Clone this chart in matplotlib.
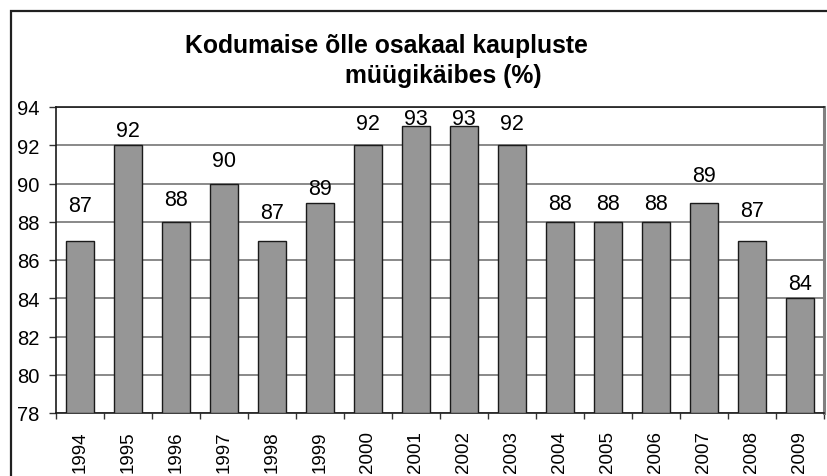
import matplotlib
matplotlib.use("Agg")
import matplotlib.pyplot as plt
from matplotlib.patches import Rectangle

# data
years = ["1994", "1995", "1996", "1997", "1998", "1999", "2000", "2001",
         "2002", "2003", "2004", "2005", "2006", "2007", "2008", "2009"]
share = [87, 92, 88, 90, 87, 89, 92, 93, 93, 92, 88, 88, 88, 89, 87, 84]
# where the value labels sit (baseline, axis units) - uneven in the original
label_y = [88.56, 92.48, 88.88, 90.92, 88.20, 89.45, 92.85, 93.11,
           93.11, 92.85, 88.69, 88.69, 88.69, 90.13, 88.30, 84.48]
yticks = [78, 80, 82, 84, 86, 88, 90, 92, 94]

title_1 = "Kodumaise õlle osakaal kaupluste"
title_2 = "müügikäibes (%)"

plt.rcParams['font.family'] = ['Liberation Sans', 'DejaVu Sans']

fig = plt.figure(figsize=(8.28, 4.77), dpi=100)
W, H = 828, 477

# outer chart frame (cut off on the right and bottom in the original)
fig.patches.append(Rectangle((11 / W, -0.1), 1.2, 1 - 12 / H + 0.1,
                             transform=fig.transFigure, fill=False,
                             edgecolor='#202020', linewidth=1.6))

ax = fig.add_axes([56 / W, 1 - 414 / H, (824 - 56) / W, (414 - 108) / H])

x = list(range(len(years)))
ax.bar(x, [v - 78 for v in share], bottom=78, width=0.6, color='#969696',
       edgecolor='#1a1a1a', linewidth=1.0, zorder=3)

for xi, v, ly in zip(x, share, label_y):
    ax.text(xi, ly, str(v), ha='center', va='baseline', fontsize=15.5,
            color='black', zorder=4)

ax.set_xlim(-0.5, len(years) - 0.5)
ax.set_ylim(78, 94)
ax.set_yticks(yticks)
ax.set_yticklabels([str(t) for t in yticks], fontsize=14.5)
ax.yaxis.grid(True, color='#808080', linewidth=1.3, zorder=0)
ax.tick_params(axis='y', direction='out', length=5, width=1, pad=7,
               color='#333333')

# category ticks between bars, labels on bar centres
ax.set_xticks([i - 0.5 for i in range(len(years) + 1)])
ax.set_xticklabels([])
ax.set_xticks(x, minor=True)
ax.set_xticklabels(years, minor=True, rotation=90, fontsize=13.5)
ax.tick_params(axis='x', which='major', direction='out', length=4.5, width=1,
               color='#333333')
ax.tick_params(axis='x', which='minor', length=0, pad=12.5)

for s in ['left', 'bottom', 'top']:
    ax.spines[s].set_color('#1a1a1a')
    ax.spines[s].set_linewidth(1.2)
ax.spines['right'].set_color('#808080')
ax.spines['right'].set_linewidth(2.2)

fig.text(386 / W, 1 - 53 / H, title_1, ha='center', va='baseline',
         fontsize=17.8, fontweight='bold')
fig.text(443 / W, 1 - 83 / H, title_2, ha='center', va='baseline',
         fontsize=17.8, fontweight='bold')

fig.savefig("out.png", dpi=100)
